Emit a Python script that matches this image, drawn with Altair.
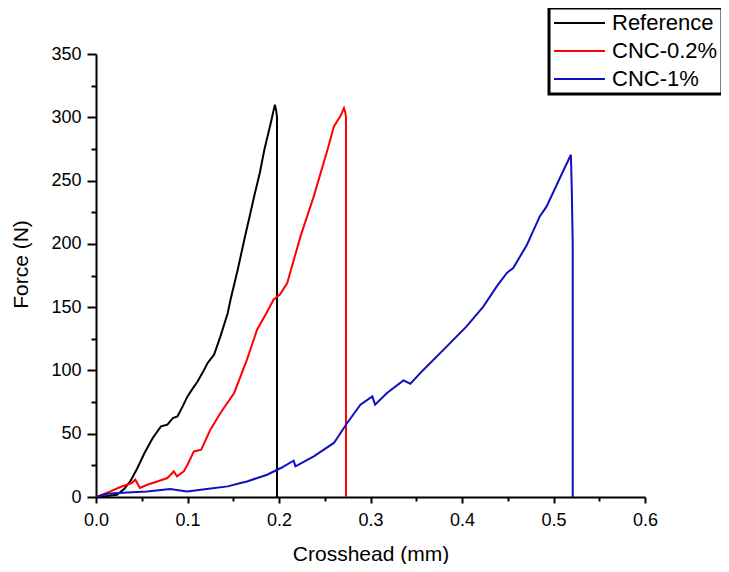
import altair as alt
import pandas as pd

series_names = ["Reference", "CNC-0.2%", "CNC-1%"]
series_colors = ["#000000", "#ff0000", "#1010c0"]

ref_x = [0.0, 0.012, 0.023, 0.031, 0.038, 0.045, 0.053, 0.062, 0.071, 0.078,
         0.084, 0.089, 0.095, 0.100, 0.106, 0.111, 0.117, 0.122, 0.129, 0.136,
         0.144, 0.147, 0.155, 0.162, 0.168, 0.173, 0.179, 0.184, 0.191, 0.1955,
         0.197, 0.1978, 0.1978]
ref_y = [0.0, 0.8, 1.8, 6.5, 13.0, 22.5, 34.8, 46.6, 55.8, 57.1,
         62.4, 63.7, 72.0, 79.5, 86.0, 91.3, 99.0, 105.9, 112.4, 126.9,
         145.4, 155.9, 180.0, 203.0, 222.0, 238.0, 256.0, 274.4, 295.5, 310.0,
         305.0, 300.0, 0.0]

c02_x = [0.0, 0.008, 0.0156, 0.0266, 0.039, 0.043, 0.048, 0.056, 0.067, 0.078,
         0.085, 0.0885, 0.096, 0.100, 0.107, 0.115, 0.125, 0.136, 0.151, 0.165,
         0.176, 0.186, 0.194, 0.201, 0.209, 0.2235, 0.238, 0.253, 0.260, 0.267,
         0.271, 0.2726, 0.2732, 0.2732]
c02_y = [0.0, 2.2, 4.4, 7.9, 11.0, 13.7, 7.1, 9.7, 12.3, 15.0,
         20.2, 16.3, 20.2, 25.5, 36.0, 37.4, 53.2, 66.4, 82.2, 108.5,
         132.2, 145.0, 155.9, 160.0, 169.1, 205.9, 237.5, 274.4, 292.8, 300.7,
         307.3, 303.4, 300.0, 0.0]

c1_x = [0.0, 0.012, 0.034, 0.056, 0.081, 0.0995, 0.121, 0.144, 0.158, 0.165,
        0.187, 0.202, 0.216, 0.218, 0.238, 0.260, 0.2745, 0.289, 0.302, 0.305,
        0.318, 0.336, 0.3435, 0.358, 0.3835, 0.405, 0.4235, 0.438, 0.449, 0.456,
        0.471, 0.485, 0.4925, 0.507, 0.519, 0.520, 0.521, 0.521]
c1_y = [0.0, 2.6, 3.6, 4.4, 6.3, 4.4, 6.3, 8.4, 11.0, 12.3,
        17.6, 22.9, 28.7, 24.2, 32.1, 42.7, 58.5, 72.9, 79.5, 72.9,
        82.2, 92.1, 89.5, 100.6, 119.0, 134.8, 150.6, 166.4, 177.0, 180.9,
        199.3, 221.7, 229.6, 252.0, 270.4, 242.8, 200.0, 0.0]

x_ticks = [0.0, 0.05, 0.1, 0.15, 0.2, 0.25, 0.3, 0.35, 0.4, 0.45, 0.5, 0.55, 0.6]
y_ticks = [0, 25, 50, 75, 100, 125, 150, 175, 200, 225, 250, 275, 300, 325, 350]

rows = []
for name, xs, ys in [(series_names[0], ref_x, ref_y),
                     (series_names[1], c02_x, c02_y),
                     (series_names[2], c1_x, c1_y)]:
    for i, (xv, yv) in enumerate(zip(xs, ys)):
        rows.append({"series": name, "x": xv, "y": yv, "i": i})
df = pd.DataFrame(rows)

x_major = "abs(datum.value*10 - round(datum.value*10)) < 0.001"
y_major = "datum.value % 50 === 0"

chart = alt.Chart(df).mark_line(strokeWidth=2, clip=True).encode(
    x=alt.X("x:Q",
            scale=alt.Scale(domain=[0, 0.6], nice=False, zero=False),
            axis=alt.Axis(values=x_ticks, title="Crosshead (mm)",
                          labelExpr=f"({x_major}) ? format(datum.value, '.1f') : ''",
                          tickSize={"condition": {"test": x_major, "value": 6}, "value": 4},
                          labelPadding=8, titlePadding=14, labelOverlap=False,
                          labelFlush=False)),
    y=alt.Y("y:Q",
            scale=alt.Scale(domain=[0, 350], nice=False),
            axis=alt.Axis(values=y_ticks, title="Force (N)",
                          labelExpr=f"({y_major}) ? format(datum.value, 'd') : ''",
                          tickSize={"condition": {"test": y_major, "value": 9}, "value": 5},
                          labelPadding=6, titlePadding=19, titleY=210,
                          labelOverlap=False, labelFlush=False)),
    color=alt.Color("series:N",
                    scale=alt.Scale(domain=series_names, range=series_colors),
                    legend=alt.Legend(title=None, orient="none", legendX=453, legendY=-46,
                                      symbolType="stroke", symbolSize=2600,
                                      symbolStrokeWidth=2, clipHeight=22,
                                      rowPadding=6, labelOffset=6, labelFontSize=22,
                                      labelFont="Liberation Sans", labelColor="black",
                                      strokeColor="black",
                                      fillColor="white", padding=4, cornerRadius=0,
                                      labelLimit=300)),
    order="i:Q",
).properties(
    width=549, height=443, autosize="none",
    padding={"left": 88, "top": 46, "right": 76, "bottom": 67},
).configure_view(stroke=None).configure_axis(
    grid=False, domainColor="black", tickColor="black", domainWidth=2, tickWidth=2,
    labelFont="Liberation Sans", labelFontSize=18, labelColor="black",
    titleFont="Liberation Sans", titleFontSize=21, titleFontWeight="normal",
    titleColor="black",
).configure_legend(strokeWidth=3)

chart.save("out.html", embed_options={"renderer": "svg", "actions": False})
